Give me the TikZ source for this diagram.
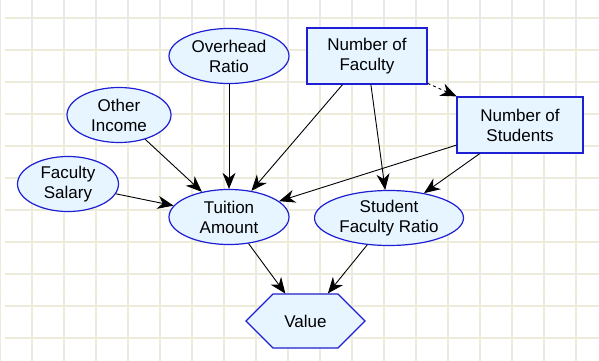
\documentclass[tikz,border=0pt]{standalone}
\usepackage{fontspec}
\setmainfont{Liberation Sans}
\usetikzlibrary{shapes,arrows.meta,positioning}
\definecolor{nodeFill}{RGB}{230,245,255}
\definecolor{nodeLine}{RGB}{30,30,210}
\definecolor{gridBlue}{RGB}{230,230,252}
\definecolor{gridYellow}{RGB}{240,237,202}
\tikzset{
  chance/.style={ellipse, draw=nodeLine, fill=nodeFill, line width=1.2pt,
    inner sep=0pt, minimum height=55pt, align=center,
    font=\fontsize{17}{20}\selectfont},
  decision/.style={rectangle, draw=nodeLine, fill=nodeFill, line width=1.2pt,
    inner sep=0pt, minimum height=56pt, align=center,
    font=\fontsize{17}{20}\selectfont},
  valuenode/.style={signal, signal to=east and west, signal pointer angle=90,
    draw=nodeLine, fill=nodeFill, line width=1.2pt, inner sep=0pt,
    minimum height=54pt, minimum width=119pt,
    font=\fontsize{17}{20}\selectfont},
  link/.style={-{Stealth[length=16pt,width=13pt,inset=5pt]}, line width=0.9pt}
}

\begin{document}
\begin{tikzpicture}[x=1pt,y=-1pt]
\useasboundingbox (0,0) rectangle (599,361);
% grid
\foreach \gx in {0,32,...,576} {
  \draw[gridBlue, line width=1.3pt] (\gx,0) -- (\gx,361);
  \draw[gridYellow, line width=1.3pt, dash pattern=on 1.5pt off 1.5pt] (\gx,0) -- (\gx,361);
}
\foreach \gy in {18,50,...,338} {
  \draw[gridBlue, line width=1.3pt] (5,\gy) -- (599,\gy);
  \draw[gridYellow, line width=1.3pt, dash pattern=on 1.5pt off 1.5pt] (5,\gy) -- (599,\gy);
}

% nodes
\node[chance, minimum width=120pt] (overhead) at (229,56) {Overhead\\Ratio};
\node[chance, minimum width=104pt] (other) at (119,115) {Other\\Income};
\node[chance, minimum width=101pt] (salary) at (68,184) {Faculty\\Salary};
\node[decision, minimum width=120pt] (nfaculty) at (367,56) {Number of\\Faculty};
\node[decision, minimum width=126pt] (nstudents) at (520,125) {Number of\\Students};
\node[chance, minimum width=120pt] (tuition) at (229,217) {Tuition\\Amount};
\node[chance, minimum width=149pt] (ratio) at (389,218) {Student\\Faculty Ratio};
\node[valuenode] (value) at (305.5,321) {Value};

% links
\draw[link] (overhead) -- (tuition);
\draw[link] (other) -- (tuition);
\draw[link] (salary) -- (tuition);
\draw[link] (nfaculty) -- (tuition);
\draw[link] (nfaculty) -- (ratio);
\draw[link, dashed] (nfaculty) -- (nstudents);
\draw[link] (nstudents) -- (tuition);
\draw[link] (nstudents) -- (ratio);
\draw[link] (tuition) -- (value);
\draw[link] (ratio) -- (value);
\end{tikzpicture}
\end{document}
